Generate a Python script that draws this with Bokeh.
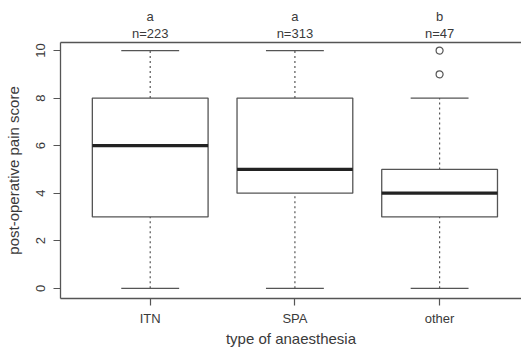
from bokeh.plotting import figure
from bokeh.models import Range1d, FixedTicker, LinearAxis
from bokeh.embed import file_html
from bokeh.resources import INLINE

# Post-operative pain score by type of anaesthesia (box-and-whisker summary)
groups = ["ITN", "SPA", "other"]
group_letters = ["a", "a", "b"]
n_obs = [223, 313, 47]
lower_whisker = [0, 0, 0]
q1 = [3, 4, 3]
median = [6, 5, 4]
q3 = [8, 8, 5]
upper_whisker = [10, 10, 8]
outlier_group = ["other", "other"]
outlier_value = [10, 9]
y_ticks = [0, 2, 4, 6, 8, 10]

FONT = "Liberation Sans"
INK = "#3a3a3a"
LINE = "#555555"

xs = [i + 1 for i in range(len(groups))]
pos = {g: x for g, x in zip(groups, xs)}

y_lo, y_hi = -0.43, 10.34
x_lo, x_hi = 0.38, 3.566

p = figure(width=521, height=349, output_backend="svg", toolbar_location=None,
           x_range=Range1d(x_lo, x_hi), y_range=Range1d(y_lo, y_hi),
           min_border_left=60, min_border_right=0, min_border_top=42,
           min_border_bottom=51)
p.outline_line_color = None
p.xgrid.visible = False
p.ygrid.visible = False
p.background_fill_color = "white"

def style_axis(ax, size="13px"):
    ax.axis_line_color = LINE
    ax.axis_line_width = 1.3
    ax.major_tick_line_color = LINE
    ax.major_tick_line_width = 1.2
    ax.major_tick_out = 7
    ax.major_tick_in = 0
    ax.minor_tick_line_color = None
    ax.major_label_text_font = FONT
    ax.major_label_text_font_size = size
    ax.major_label_text_color = INK

style_axis(p.xaxis[0])
style_axis(p.yaxis[0])

p.xaxis.ticker = FixedTicker(ticks=xs)
p.xaxis.major_label_overrides = {x: g for x, g in zip(xs, groups)}
p.xaxis.major_label_standoff = 5
p.xaxis.axis_label = "type of anaesthesia"
p.xaxis.axis_label_text_font = FONT
p.xaxis.axis_label_text_font_size = "15px"
p.xaxis.axis_label_text_font_style = "normal"
p.xaxis.axis_label_text_color = INK
p.xaxis.axis_label_standoff = 1

p.yaxis.ticker = FixedTicker(ticks=y_ticks)
p.yaxis.major_label_orientation = "vertical"
p.yaxis.major_label_standoff = 8
p.yaxis.axis_label = "post-operative pain score"
p.yaxis.axis_label_text_font = FONT
p.yaxis.axis_label_text_font_size = "15px"
p.yaxis.axis_label_text_font_style = "normal"
p.yaxis.axis_label_text_color = INK
p.yaxis.axis_label_standoff = 12

# top border of the box, carrying the group sizes
n_axis = LinearAxis(ticker=FixedTicker(ticks=xs),
                    major_label_overrides={x: f"n={n}" for x, n in zip(xs, n_obs)})
style_axis(n_axis)
n_axis.major_tick_out = 0
n_axis.major_label_standoff = 2
p.add_layout(n_axis, "above")

# significance letters above the group sizes
letter_axis = LinearAxis(ticker=FixedTicker(ticks=xs),
                         major_label_overrides={x: s for x, s in zip(xs, group_letters)})
style_axis(letter_axis)
letter_axis.axis_line_color = None
letter_axis.major_tick_out = 0
letter_axis.major_label_standoff = -1
p.add_layout(letter_axis, "above")

# whiskers
p.segment(x0=xs, x1=xs, y0=q3, y1=upper_whisker, line_color=LINE,
          line_width=1.2, line_dash="2 3")
p.segment(x0=xs, x1=xs, y0=lower_whisker, y1=q1, line_color=LINE,
          line_width=1.2, line_dash="2 3")
cap = 0.2
p.segment(x0=[x - cap for x in xs], x1=[x + cap for x in xs],
          y0=upper_whisker, y1=upper_whisker, line_color=LINE, line_width=1.3)
p.segment(x0=[x - cap for x in xs], x1=[x + cap for x in xs],
          y0=lower_whisker, y1=lower_whisker, line_color=LINE, line_width=1.3)

# boxes and medians
half = 0.4
p.vbar(x=xs, width=2 * half, bottom=q1, top=q3, fill_color="white",
       line_color=LINE, line_width=1.3)
p.segment(x0=[x - half for x in xs], x1=[x + half for x in xs],
          y0=median, y1=median, line_color="#222222", line_width=3.2)

# outliers
p.scatter(x=[pos[g] for g in outlier_group], y=outlier_value, marker="circle",
          size=7, fill_color=None, line_color=LINE, line_width=1.2)

open("out.html", "w").write(file_html(p, INLINE))
